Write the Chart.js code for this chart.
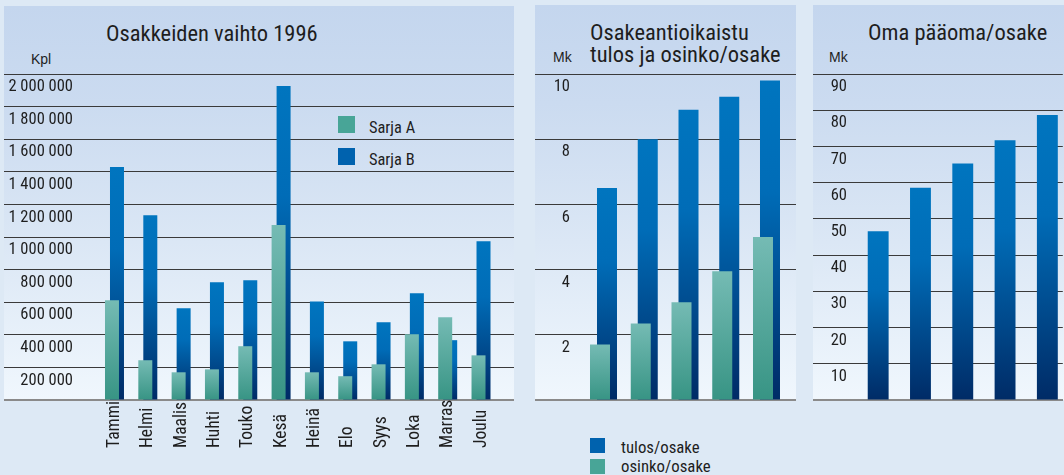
<!DOCTYPE html>
<html><head><meta charset="utf-8">
<script src="https://cdn.jsdelivr.net/npm/chart.js@4.4.1/dist/chart.umd.min.js"></script>
<style>
html,body{margin:0;padding:0;width:1064px;height:475px;overflow:hidden;background:#dde9f5;}
.panel{position:absolute;background:linear-gradient(to bottom,#c4d6ee 0%,#cbdbf0 25%,#dbe7f5 60%,#f0f7fd 100%);}
canvas{position:absolute;top:0;}
.t{position:absolute;font-family:'Roboto Condensed','DejaVu Sans Condensed',sans-serif;color:#1e1e1e;white-space:nowrap;}
.u{position:absolute;font-family:'Liberation Sans',Arial,sans-serif;font-size:14px;line-height:14px;color:#1e1e1e;white-space:nowrap;}
.sw{position:absolute;}
</style></head><body>
<div class="panel" style="left:4px;top:6px;width:510px;height:394px;"></div>
<div class="panel" style="left:535px;top:5px;width:261px;height:395px;"></div>
<div class="panel" style="left:813px;top:5px;width:260px;height:395px;"></div>

<div class="t" style="left:106px;top:21.3px;font-size:22.5px;line-height:24px;">Osakkeiden vaihto 1996</div>
<div class="u" style="left:31px;top:51.5px;">Kpl</div>
<div class="t" style="left:590px;top:21.3px;font-size:22.5px;line-height:22px;">Osakeantioikaistu<br>tulos ja osinko/osake</div>
<div class="u" style="left:553px;top:50px;">Mk</div>
<div class="t" style="left:868px;top:20.3px;font-size:22.5px;line-height:24px;">Oma pääoma/osake</div>
<div class="u" style="left:829px;top:50px;">Mk</div>

<div class="sw" style="left:338px;top:116px;width:17px;height:17px;background:#48a597;"></div>
<div class="t" style="left:369px;top:119.5px;font-size:16.4px;line-height:16.4px;">Sarja A</div>
<div class="sw" style="left:338px;top:148px;width:17px;height:17px;background:#0062ae;"></div>
<div class="t" style="left:369px;top:151.9px;font-size:16.4px;line-height:16.4px;">Sarja B</div>

<div class="sw" style="left:590px;top:438px;width:15px;height:15px;background:#0062ae;"></div>
<div class="t" style="left:621px;top:438.6px;font-size:16.8px;line-height:16.8px;">tulos/osake</div>
<div class="sw" style="left:590px;top:459px;width:15px;height:15px;background:#48a597;"></div>
<div class="t" style="left:621px;top:458.4px;font-size:16.8px;line-height:16.8px;">osinko/osake</div>

<canvas id="c1" width="510" height="475" style="left:4px;"></canvas>
<canvas id="c2" width="261" height="475" style="left:535px;"></canvas>
<canvas id="c3" width="251" height="475" style="left:813px;"></canvas>

<script>
// ---- data ----
const months = ['Tammi','Helmi','Maalis','Huhti','Touko','Kesä','Heinä','Elo','Syys','Loka','Marras','Joulu'];
const sarjaA = [612000,244000,170000,188000,330000,1073000,170000,146000,219000,403000,508000,274000];
const sarjaB = [1429000,1134000,563000,723000,735000,1926000,604000,360000,477000,655000,367000,974000];
const vaihtoTicks = [0,200000,400000,600000,800000,1000000,1200000,1400000,1600000,1800000,2000000];

const years = ['92','93','94','95','96'];
const tulos = [6.5,8.0,8.9,9.3,9.8];
const osinko = [1.7,2.35,3.0,3.95,5.0];
const tulosTicks = [0,2,4,6,8,10];

const omaPaaoma = [46.6,58.6,65.3,71.7,78.7];
const omaTicks = [0,10,20,30,40,50,60,70,80,90];

// ---- styling helpers ----
const NARROW = "'Roboto Condensed','DejaVu Sans Condensed',sans-serif";
const TXT = '#1e1e1e';
const BLUE_STOPS = [[0,'#0075bf'],[0.35,'#006cb7'],[1,'#002b66']];
const TEAL_STOPS = [[0,'#75bbb4'],[1,'#379484']];
const TICK_SIZE = 16.5;

function barGradient(stops) {
  return (c) => {
    const chart = c.chart;
    if (!chart.chartArea || c.type !== 'data' || !c.raw) return stops[0][1];
    const y = chart.scales.y;
    const top = y.getPixelForValue(c.raw.y);
    const base = y.getPixelForValue(0);
    const g = chart.ctx.createLinearGradient(0, top, 0, base);
    stops.forEach(([o, col]) => g.addColorStop(o, col));
    return g;
  };
}
function textWidth(str, size) {
  const ctx = document.createElement('canvas').getContext('2d');
  ctx.font = size + 'px ' + NARROW;
  return ctx.measureText(str).width;
}
function fmtSpace(v) { return String(v).replace(/\B(?=(\d{3})+(?!\d))/g, ' '); }

function yScale(ticksArr, fmt, rightEdge) {
  const widest = Math.max(...ticksArr.map(v => v === 0 ? 0 : textWidth(fmt(v), TICK_SIZE)));
  return {
    type: 'linear',
    min: ticksArr[0],
    max: ticksArr[ticksArr.length - 1],
    afterBuildTicks: a => { a.ticks = ticksArr.map(v => ({ value: v })); },
    afterFit: a => { a.width = 0; },
    border: { display: false },
    grid: {
      color: c => (c.tick && c.tick.value === 0) ? 'rgba(0,0,0,0)' : '#3a3a3a',
      lineWidth: 1,
      drawTicks: false
    },
    ticks: {
      mirror: true,
      crossAlign: 'far',
      padding: rightEdge - widest,
      labelOffset: 13,
      autoSkip: false,
      color: TXT,
      font: { family: NARROW, size: TICK_SIZE },
      callback: v => v === 0 ? '' : fmt(v)
    }
  };
}
function xScale(labels, min, max, showTicks) {
  return {
    type: 'linear',
    offset: false,
    min: min, max: max,
    afterBuildTicks: a => { a.ticks = labels.map((_, i) => ({ value: i })); },
    afterFit: a => { a.height = 0; },
    grid: { display: false, drawTicks: false, offset: false },
    border: { display: true, color: '#8a8a8a', width: 2 },
    ticks: {
      display: showTicks,
      padding: 8.5,
      autoSkip: false,
      maxRotation: 0,
      color: TXT,
      font: { family: NARROW, size: TICK_SIZE },
      callback: v => labels[v]
    }
  };
}
const baseOptions = {
  responsive: false,
  animation: false,
  events: [],
  layout: { padding: { top: 74, bottom: 75, left: 0, right: 0 } },
  plugins: { legend: { display: false }, title: { display: false }, tooltip: { enabled: false } }
};
const pts = arr => arr.map((v, i) => ({ x: i, y: v }));

// month labels (rotated, start-aligned at the bottom like the original)
const monthLabels = {
  id: 'monthLabels',
  afterDraw(chart) {
    const { ctx, scales: { x } } = chart;
    ctx.save();
    ctx.font = '17.5px ' + NARROW;
    ctx.fillStyle = TXT;
    ctx.textAlign = 'left';
    ctx.textBaseline = 'alphabetic';
    months.forEach((m, i) => {
      const px = x.getPixelForValue(i);
      ctx.save();
      ctx.translate(px + 4.5, 448);
      ctx.rotate(-Math.PI / 2);
      ctx.fillText(m, 0, 0);
      ctx.restore();
    });
    ctx.restore();
  }
};

// ---- chart 1: Osakkeiden vaihto ----
new Chart(document.getElementById('c1'), {
  type: 'bar',
  data: {
    datasets: [
      { label: 'Sarja A', data: pts(sarjaA), backgroundColor: barGradient(TEAL_STOPS) },
      { label: 'Sarja B', data: pts(sarjaB), backgroundColor: barGradient(BLUE_STOPS) }
    ]
  },
  options: Object.assign({}, baseOptions, {
    datasets: { bar: { categoryPercentage: 0.3, barPercentage: 2.8 } },
    scales: {
      x: xScale(months, -3.316, 11.99, false),
      y: yScale(vaihtoTicks, fmtSpace, 69)
    }
  }),
  plugins: [monthLabels]
});

// ---- chart 2: tulos ja osinko/osake ----
new Chart(document.getElementById('c2'), {
  type: 'bar',
  data: {
    datasets: [
      { label: 'osinko/osake', data: pts(osinko), backgroundColor: barGradient(TEAL_STOPS) },
      { label: 'tulos/osake', data: pts(tulos), backgroundColor: barGradient(BLUE_STOPS) }
    ]
  },
  options: Object.assign({}, baseOptions, {
    datasets: { bar: { categoryPercentage: 0.3436, barPercentage: 2.857 } },
    scales: {
      x: xScale(years, -1.681, 4.724, true),
      y: yScale(tulosTicks, v => String(v), 35)
    }
  })
});

// ---- chart 3: Oma pääoma/osake ----
new Chart(document.getElementById('c3'), {
  type: 'bar',
  data: {
    datasets: [
      { label: 'Oma pääoma/osake', data: pts(omaPaaoma), backgroundColor: barGradient(BLUE_STOPS) }
    ]
  },
  options: Object.assign({}, baseOptions, {
    datasets: { bar: { categoryPercentage: 1, barPercentage: 0.494 } },
    scales: {
      x: xScale(years, -1.541, 4.365, true),
      y: yScale(omaTicks, v => String(v), 34)
    }
  })
});
</script>
</body></html>
